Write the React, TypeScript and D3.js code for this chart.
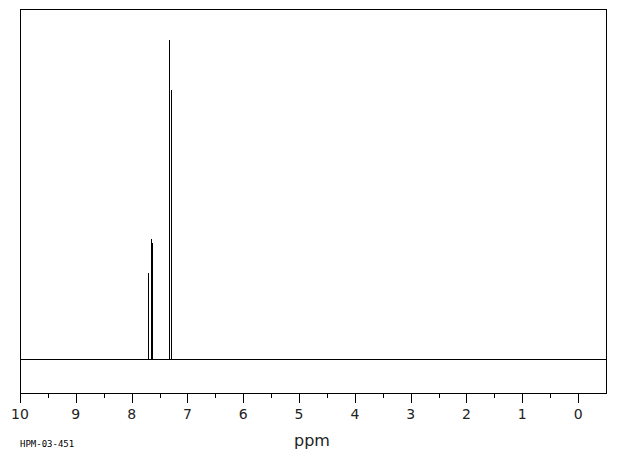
import React from "react";
import * as d3 from "d3";

const peakPpm = [7.696, 7.689, 7.64, 7.635, 7.63, 7.33, 7.325, 7.289, 7.284, 7.28];
const peakIntensity = [3, 27, 5, 37.6, 36.5, 6, 100, 84.3, 6, 5];
const majorTicks = [10, 9, 8, 7, 6, 5, 4, 3, 2, 1, 0];
const minorTicks = [9.5, 8.5, 7.5, 6.5, 5.5, 4.5, 3.5, 2.5, 1.5, 0.5];
const xLabel = "ppm";
const codeLabel = "HPM-03-451";

const W = 620;
const H = 455;
const left = 20, right = 606, top = 9, bottom = 393;
const baseY = 359, peakTopY = 40;

export default function App() {
  const x = d3.scaleLinear().domain([10, -0.5]).range([left, right]);
  const y = d3.scaleLinear().domain([0, 100]).range([baseY, peakTopY]);

  const order = peakPpm.map((p, i) => i).sort((a, b) => peakPpm[b] - peakPpm[a]);
  const pts: [number, number][] = [[10.5, 0]];
  order.forEach((i) => {
    pts.push([peakPpm[i], 0], [peakPpm[i], peakIntensity[i]], [peakPpm[i], 0]);
  });
  pts.push([-0.5, 0]);
  const line = d3
    .line<[number, number]>()
    .x((d) => Math.max(left, x(d[0])))
    .y((d) => y(d[1]));

  return (
    <svg width={W} height={H} style={{ position: "absolute", left: 0, top: 0, background: "#fff" }}>
      <rect x={left + 0.5} y={top + 0.5} width={right - left} height={bottom - top} fill="none" stroke="#000" strokeWidth={1} />
      <path d={line(pts) || ""} fill="none" stroke="#000" strokeWidth={1} shapeRendering="crispEdges" />
      {majorTicks.map((t) => (
        <g key={"M" + t}>
          <line x1={Math.round(x(t)) + 0.5} x2={Math.round(x(t)) + 0.5} y1={bottom} y2={bottom + 10} stroke="#000" />
          <text x={x(t)} y={419} textAnchor="middle" fontFamily="DejaVu Sans" fontSize={14} fill="#222">
            {t}
          </text>
        </g>
      ))}
      {minorTicks.map((t) => (
        <line key={"m" + t} x1={Math.round(x(t)) + 0.5} x2={Math.round(x(t)) + 0.5} y1={bottom} y2={bottom + 5} stroke="#000" />
      ))}
      <text x={312} y={446} textAnchor="middle" fontFamily="DejaVu Sans" fontSize={16} fill="#222">
        {xLabel}
      </text>
      <text x={20} y={447} fontFamily="DejaVu Sans Mono" fontSize={9} fill="#000">
        {codeLabel}
      </text>
    </svg>
  );
}
